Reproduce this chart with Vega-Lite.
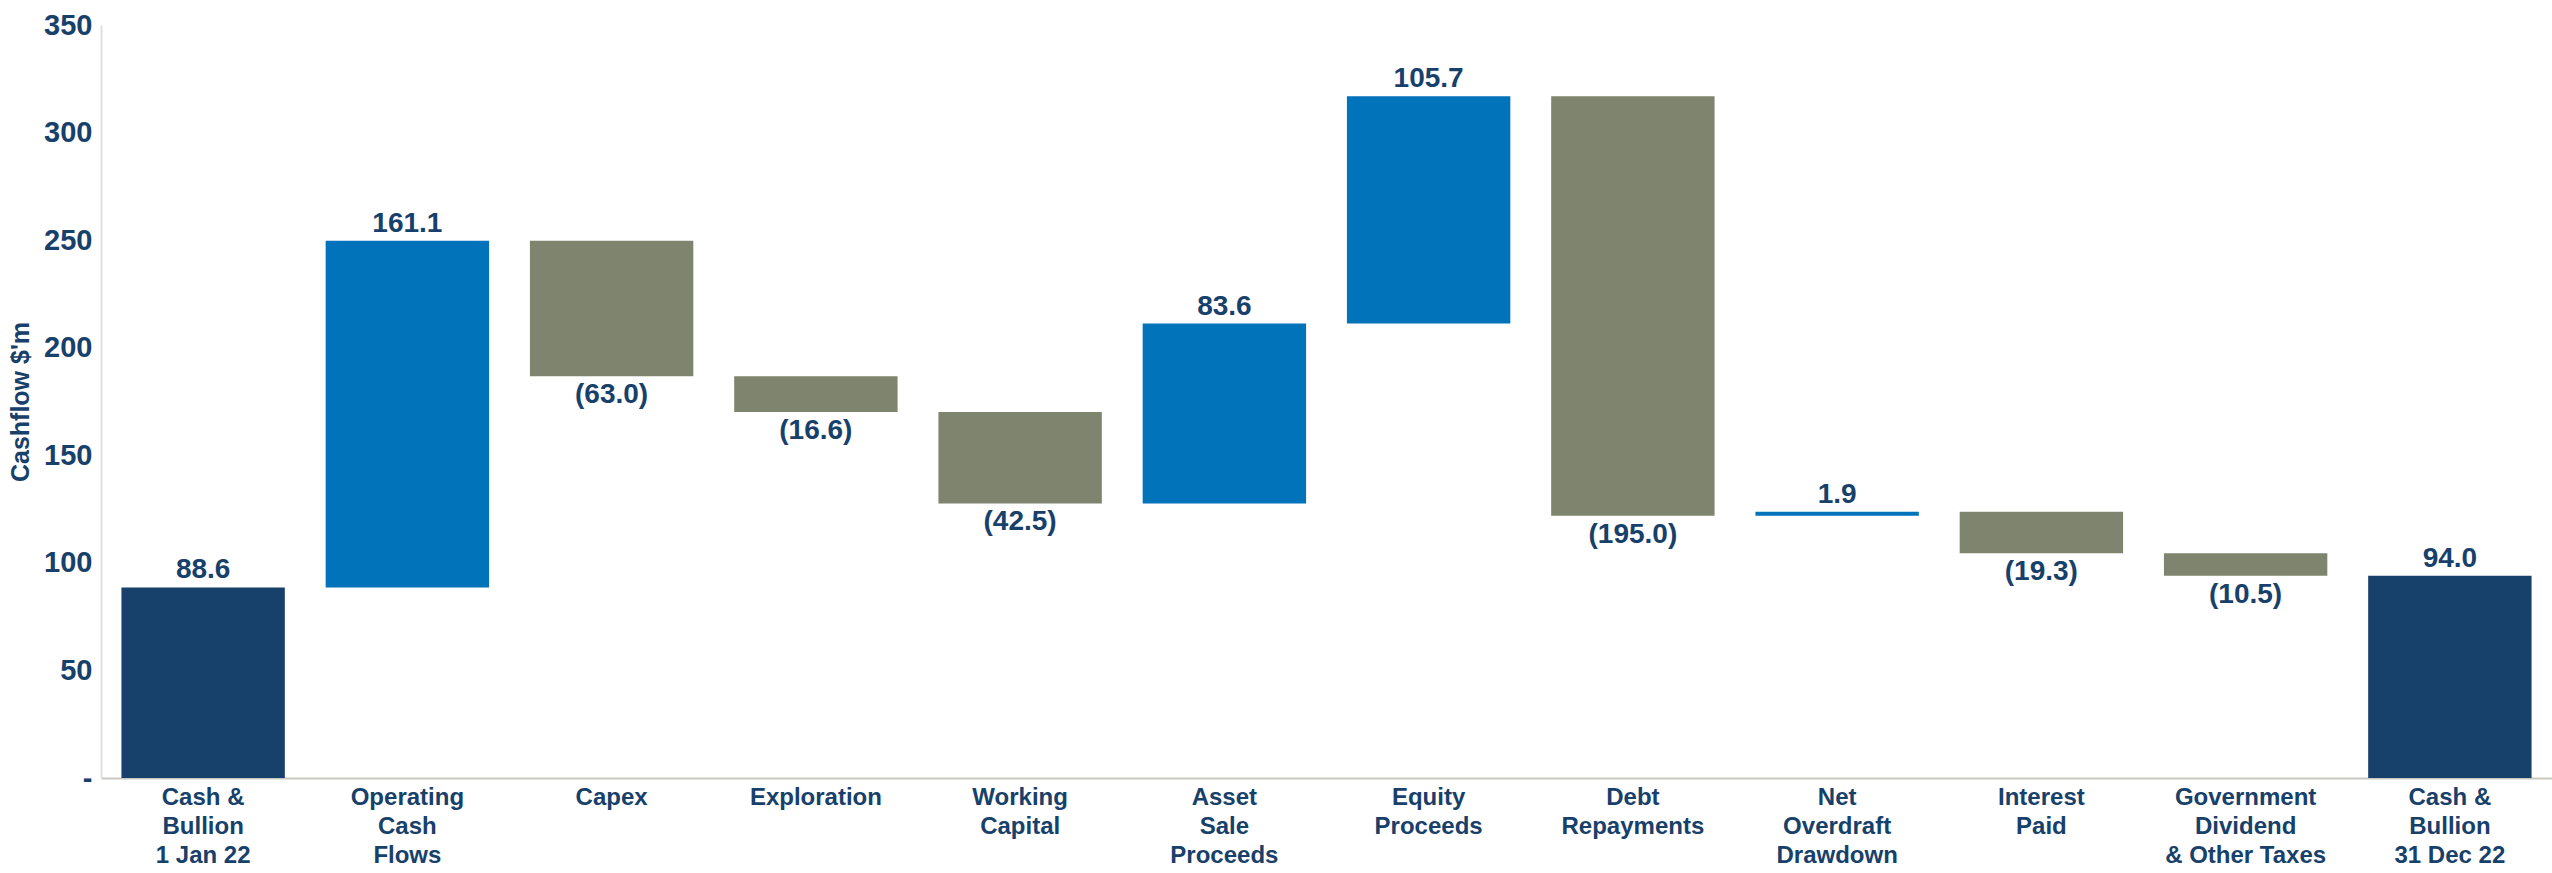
{
  "$schema": "https://vega.github.io/schema/vega-lite/v6.json",
  "width": 2451,
  "height": 753,
  "autosize": {"type": "none"},
  "padding": {"left": 101, "top": 25, "right": 0, "bottom": 95},
  "background": "white",
  "config": {
    "font": "Liberation Sans",
    "view": {"stroke": null}
  },
  "data": {
    "values": [
      {"cat": "Cash &|Bullion|1 Jan 22", "start": 0, "end": 88.6, "label": "88.6", "kind": "total"},
      {"cat": "Operating|Cash|Flows", "start": 88.6, "end": 249.7, "label": "161.1", "kind": "increase"},
      {"cat": "Capex", "start": 249.7, "end": 186.7, "label": "(63.0)", "kind": "decrease"},
      {"cat": "Exploration", "start": 186.7, "end": 170.1, "label": "(16.6)", "kind": "decrease"},
      {"cat": "Working|Capital", "start": 170.1, "end": 127.6, "label": "(42.5)", "kind": "decrease"},
      {"cat": "Asset|Sale|Proceeds", "start": 127.6, "end": 211.2, "label": "83.6", "kind": "increase"},
      {"cat": "Equity|Proceeds", "start": 211.2, "end": 316.9, "label": "105.7", "kind": "increase"},
      {"cat": "Debt|Repayments", "start": 316.9, "end": 121.9, "label": "(195.0)", "kind": "decrease"},
      {"cat": "Net|Overdraft|Drawdown", "start": 121.9, "end": 123.8, "label": "1.9", "kind": "increase"},
      {"cat": "Interest|Paid", "start": 123.8, "end": 104.5, "label": "(19.3)", "kind": "decrease"},
      {"cat": "Government|Dividend|& Other Taxes", "start": 104.5, "end": 94.0, "label": "(10.5)", "kind": "decrease"},
      {"cat": "Cash &|Bullion|31 Dec 22", "start": 0, "end": 94.0, "label": "94.0", "kind": "total"}
    ]
  },
  "encoding": {
    "x": {
      "field": "cat",
      "type": "nominal",
      "sort": null,
      "scale": {"paddingInner": 0.2, "paddingOuter": 0.1},
      "axis": {
        "title": null,
        "labelAngle": 0,
        "labelExpr": "split(datum.value, '|')",
        "labelFont": "Liberation Sans",
        "labelFontSize": 24,
        "labelFontWeight": "bold",
        "labelColor": "#17406A",
        "labelLineHeight": 29,
        "labelBaseline": "top",
        "labelPadding": 7,
        "ticks": false,
        "domainColor": "#C8C8C0",
        "domainWidth": 2,
        "labelLimit": 400
      }
    }
  },
  "layer": [
    {
      "mark": {"type": "bar"},
      "encoding": {
        "y": {
          "field": "start",
          "type": "quantitative",
          "scale": {"domain": [0, 350], "nice": false},
          "axis": {
            "title": "Cashflow $'m",
            "titleFont": "Liberation Sans Narrow, Liberation Sans",
            "titleFontSize": 25,
            "titleFontWeight": "bold",
            "titleColor": "#17406A",
            "titlePadding": 10,
            "values": [0, 50, 100, 150, 200, 250, 300, 350],
            "labelExpr": "datum.value == 0 ? '-' : datum.label",
            "labelFontSize": 29,
            "labelFontWeight": "bold",
            "labelColor": "#17406A",
            "labelPadding": 9,
            "ticks": false,
            "grid": false,
            "domainColor": "#E0E0E0",
            "domainWidth": 2
          }
        },
        "y2": {"field": "end"},
        "color": {
          "field": "kind",
          "type": "nominal",
          "scale": {"domain": ["total", "increase", "decrease"], "range": ["#17406A", "#0073BA", "#7F846E"]},
          "legend": null
        }
      }
    },
    {
      "transform": [{"filter": "datum.kind != 'decrease'"}],
      "mark": {"type": "text", "baseline": "alphabetic", "dy": -9, "fontSize": 28, "fontWeight": "bold", "color": "#17406A"},
      "encoding": {
        "y": {"field": "end", "type": "quantitative"},
        "text": {"field": "label"}
      }
    },
    {
      "transform": [{"filter": "datum.kind == 'decrease'"}],
      "mark": {"type": "text", "baseline": "top", "dy": 5, "fontSize": 28, "fontWeight": "bold", "color": "#17406A"},
      "encoding": {
        "y": {"field": "end", "type": "quantitative"},
        "text": {"field": "label"}
      }
    }
  ]
}
